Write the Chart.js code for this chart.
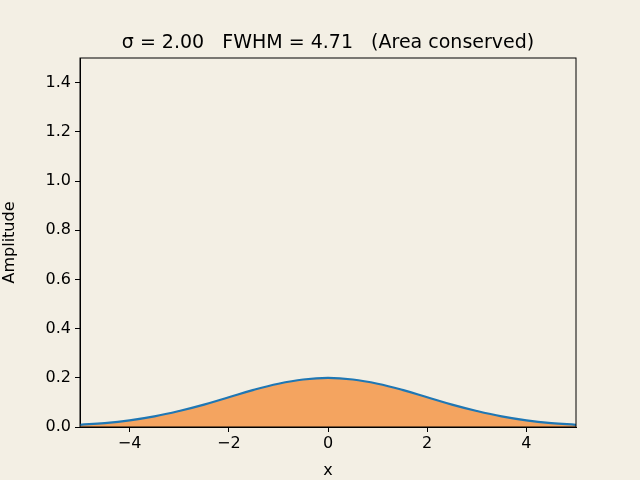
<!DOCTYPE html>
<html>
<head>
<meta charset="utf-8">
<script src="https://cdn.jsdelivr.net/npm/chart.js@4"></script>
<style>
  html, body { margin: 0; padding: 0; background: #f3efe4; }
  #wrap { width: 640px; height: 480px; }
</style>
</head>
<body>
<div id="wrap"><canvas id="chart" width="640" height="480"></canvas></div>
<script>
// values (sigma = 2, peak ~0.2)
const xValues = [-5, -4.5, -4, -3.5, -3, -2.5, -2, -1.5, -1, -0.5, 0, 0.5, 1, 1.5, 2, 2.5, 3, 3.5, 4, 4.5, 5];
const amplitude = [0.009, 0.016, 0.027, 0.043, 0.065, 0.091, 0.121, 0.151, 0.176, 0.193, 0.1995,
                   0.193, 0.176, 0.151, 0.121, 0.091, 0.065, 0.043, 0.027, 0.016, 0.009];
const xTicks = [-4, -2, 0, 2, 4];
const yTicks = [0, 0.2, 0.4, 0.6, 0.8, 1.0, 1.2, 1.4];
const titleText = "σ = 2.00   FWHM = 4.71   (Area conserved)";

const points = xValues.map((x, i) => ({ x: x, y: amplitude[i] }));
const font = { family: "DejaVu Sans", size: 16 };

const framePlugin = {
  id: "frame",
  beforeDraw(chart) {
    const c = chart.ctx;
    c.save();
    c.fillStyle = "#f3efe4";
    c.fillRect(0, 0, chart.width, chart.height);
    c.restore();
  },
  afterDraw(chart) {
    const c = chart.ctx, a = chart.chartArea;
    c.save();
    c.strokeStyle = "#000";
    c.lineWidth = 1;
    c.strokeRect(a.left, a.top, a.right - a.left, a.bottom - a.top);
    c.fillStyle = "#000";
    c.font = "19px 'DejaVu Sans'";
    c.textAlign = "center";
    c.textBaseline = "bottom";
    c.fillText(titleText, (a.left + a.right) / 2, a.top - 5);
    c.restore();
  }
};

new Chart("chart", {
  type: "line",
  data: {
    datasets: [{
      data: points,
      borderColor: "#1f77b4",
      borderWidth: 2.2,
      backgroundColor: "#f4a460",
      fill: "origin",
      pointRadius: 0,
      tension: 0.4
    }]
  },
  options: {
    responsive: false,
    animation: false,
    layout: { padding: { top: 58, right: 64, left: 0, bottom: 0 } },
    plugins: { legend: { display: false }, tooltip: { enabled: false } },
    scales: {
      x: {
        type: "linear", min: -5, max: 5,
        afterBuildTicks: s => { s.ticks = xTicks.map(v => ({ value: v })); },
        afterFit: s => { s.height = 53; },
        ticks: { color: "#000", font: font, maxRotation: 0, padding: 2, callback: v => String(v).replace("-", "−") },
        grid: { drawOnChartArea: false, color: "#000", tickLength: 5 },
        border: { color: "#000" },
        title: { display: true, text: "x", color: "#000", font: font, padding: { top: 0, bottom: 0 } }
      },
      y: {
        min: 0, max: 1.5,
        afterBuildTicks: s => { s.ticks = yTicks.map(v => ({ value: v })); },
        afterFit: s => { s.width = 80; },
        ticks: { color: "#000", font: font, padding: 4, callback: v => v.toFixed(1) },
        grid: { drawOnChartArea: false, color: "#000", tickLength: 5 },
        border: { color: "#000" },
        title: { display: true, text: "Amplitude", color: "#000", font: font, padding: { top: 0, bottom: 0 } }
      }
    }
  },
  plugins: [framePlugin]
});
</script>
</body>
</html>
